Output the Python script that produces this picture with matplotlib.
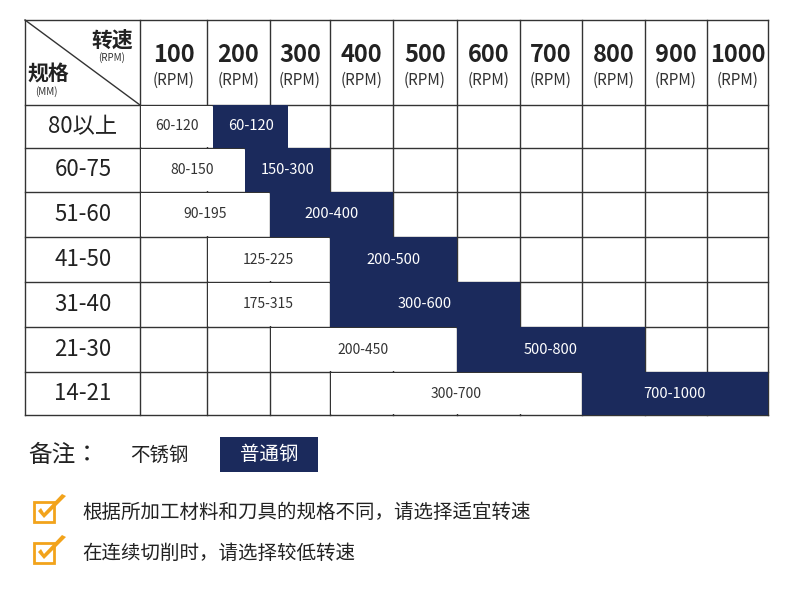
import matplotlib
matplotlib.use("Agg")
import matplotlib.pyplot as plt
from matplotlib.patches import Rectangle, Polygon
from matplotlib import font_manager

speeds = ["100", "200", "300", "400", "500", "600", "700", "800", "900", "1000"]
sizes = ["80以上", "60-75", "51-60", "41-50", "31-40", "21-30", "14-21"]
stainless_labels = ["60-120", "80-150", "90-195", "125-225", "175-315", "200-450", "300-700"]
stainless_start = [50, 50, 50, 150, 150, 250, 350]
stainless_end = [160, 210, 250, 350, 350, 550, 750]
carbon_labels = ["60-120", "150-300", "200-400", "200-500", "300-600", "500-800", "700-1000"]
carbon_start = [160, 210, 250, 350, 350, 550, 750]
carbon_end = [280, 350, 450, 550, 650, 850, 1050]
notes = ["根据所加工材料和刀具的规格不同，请选择适宜转速", "在连续切削时，请选择较低转速"]

NAVY = "#1b2a5c"
names = {f.name for f in font_manager.fontManager.ttflist}
cjk = [n for n in ["Noto Sans CJK SC", "Noto Sans CJK JP", "Noto Sans CJK TC", "Noto Sans CJK KR"] if n in names]
if not cjk:
    cjk = sorted(n for n in names if "CJK" in n)
plt.rcParams["font.family"] = cjk + ["DejaVu Sans"]

fig = plt.figure(figsize=(7.98, 5.93), dpi=100)
ax = fig.add_axes([0, 0, 1, 1])
ax.set_xlim(0, 798); ax.set_ylim(593, 0); ax.axis("off")

col_x = [140, 207, 270, 330, 393, 457, 520, 582, 645, 707, 768]
row_y = [105, 148, 192, 237, 282, 327, 372, 415]
top, left = 20, 25

def rx(v):
    i = min(int((v - 50) // 100), 9)
    f = (v - 50 - 100 * i) / 100
    return col_x[i] + f * (col_x[i + 1] - col_x[i])

lc = "#333333"
for x in [left] + col_x:
    ax.plot([x, x], [top, row_y[-1]], color=lc, lw=1)
for y in [top] + row_y:
    ax.plot([left, col_x[-1]], [y, y], color=lc, lw=1)
ax.plot([left, col_x[0]], [top, row_y[0]], color=lc, lw=1)

for i, s in enumerate(speeds):
    cx = (col_x[i] + col_x[i + 1]) / 2
    ax.text(cx, 55, s, ha="center", va="center", fontsize=17, fontweight="bold", color="#222")
    ax.text(cx, 80, "(RPM)", ha="center", va="center", fontsize=11, color="#333")
ax.text(112, 40, "转速", ha="center", va="center", fontsize=15, fontweight="bold", color="#222")
ax.text(112, 58, "(RPM)", ha="center", va="center", fontsize=7, color="#333")
ax.text(48, 74, "规格", ha="center", va="center", fontsize=15, fontweight="bold", color="#222")
ax.text(46, 92, "(MM)", ha="center", va="center", fontsize=7, color="#333")

for r, name in enumerate(sizes):
    y0, y1 = row_y[r], row_y[r + 1]
    cy = (y0 + y1) / 2
    ax.text(83, cy, name, ha="center", va="center", fontsize=16, color="#222")
    xs, xe = rx(stainless_start[r]), rx(stainless_end[r])
    ax.add_patch(Rectangle((xs + 1, y0 + 1), xe - xs - 2, y1 - y0 - 2, facecolor="white", edgecolor="none", zorder=3))
    ax.text((xs + xe) / 2, cy, stainless_labels[r], ha="center", va="center", fontsize=10, color="#333", zorder=4)
    ns, ne = rx(carbon_start[r]), rx(carbon_end[r])
    ax.add_patch(Rectangle((ns, y0), ne - ns, y1 - y0, facecolor=NAVY, edgecolor="none", zorder=3))
    ax.text((ns + ne) / 2, cy, carbon_labels[r], ha="center", va="center", fontsize=10.5, color="white", zorder=4)

ax.text(28, 455, "备注：", ha="left", va="center", fontsize=17, color="#222")
ax.text(130, 455, "不锈钢", ha="left", va="center", fontsize=14, color="#222")
ax.add_patch(Rectangle((220, 437), 98, 35, facecolor=NAVY, edgecolor="none"))
ax.text(269, 454, "普通钢", ha="center", va="center", fontsize=14, color="white")

for k, t in enumerate(notes):
    y = 512 + 41 * k
    ax.add_patch(Rectangle((34, y - 10), 20, 20, facecolor="none", edgecolor="#f2a31b", lw=2))
    ax.add_patch(Polygon([(38, y - 1), (44, y + 6), (66, y - 16), (62, y - 18), (44, y + 1), (41, y - 4)],
                         closed=True, facecolor="#f2a31b", edgecolor="none"))
    ax.text(82, y, t, ha="left", va="center", fontsize=14, color="#222")

fig.savefig("out.png", dpi=100)
